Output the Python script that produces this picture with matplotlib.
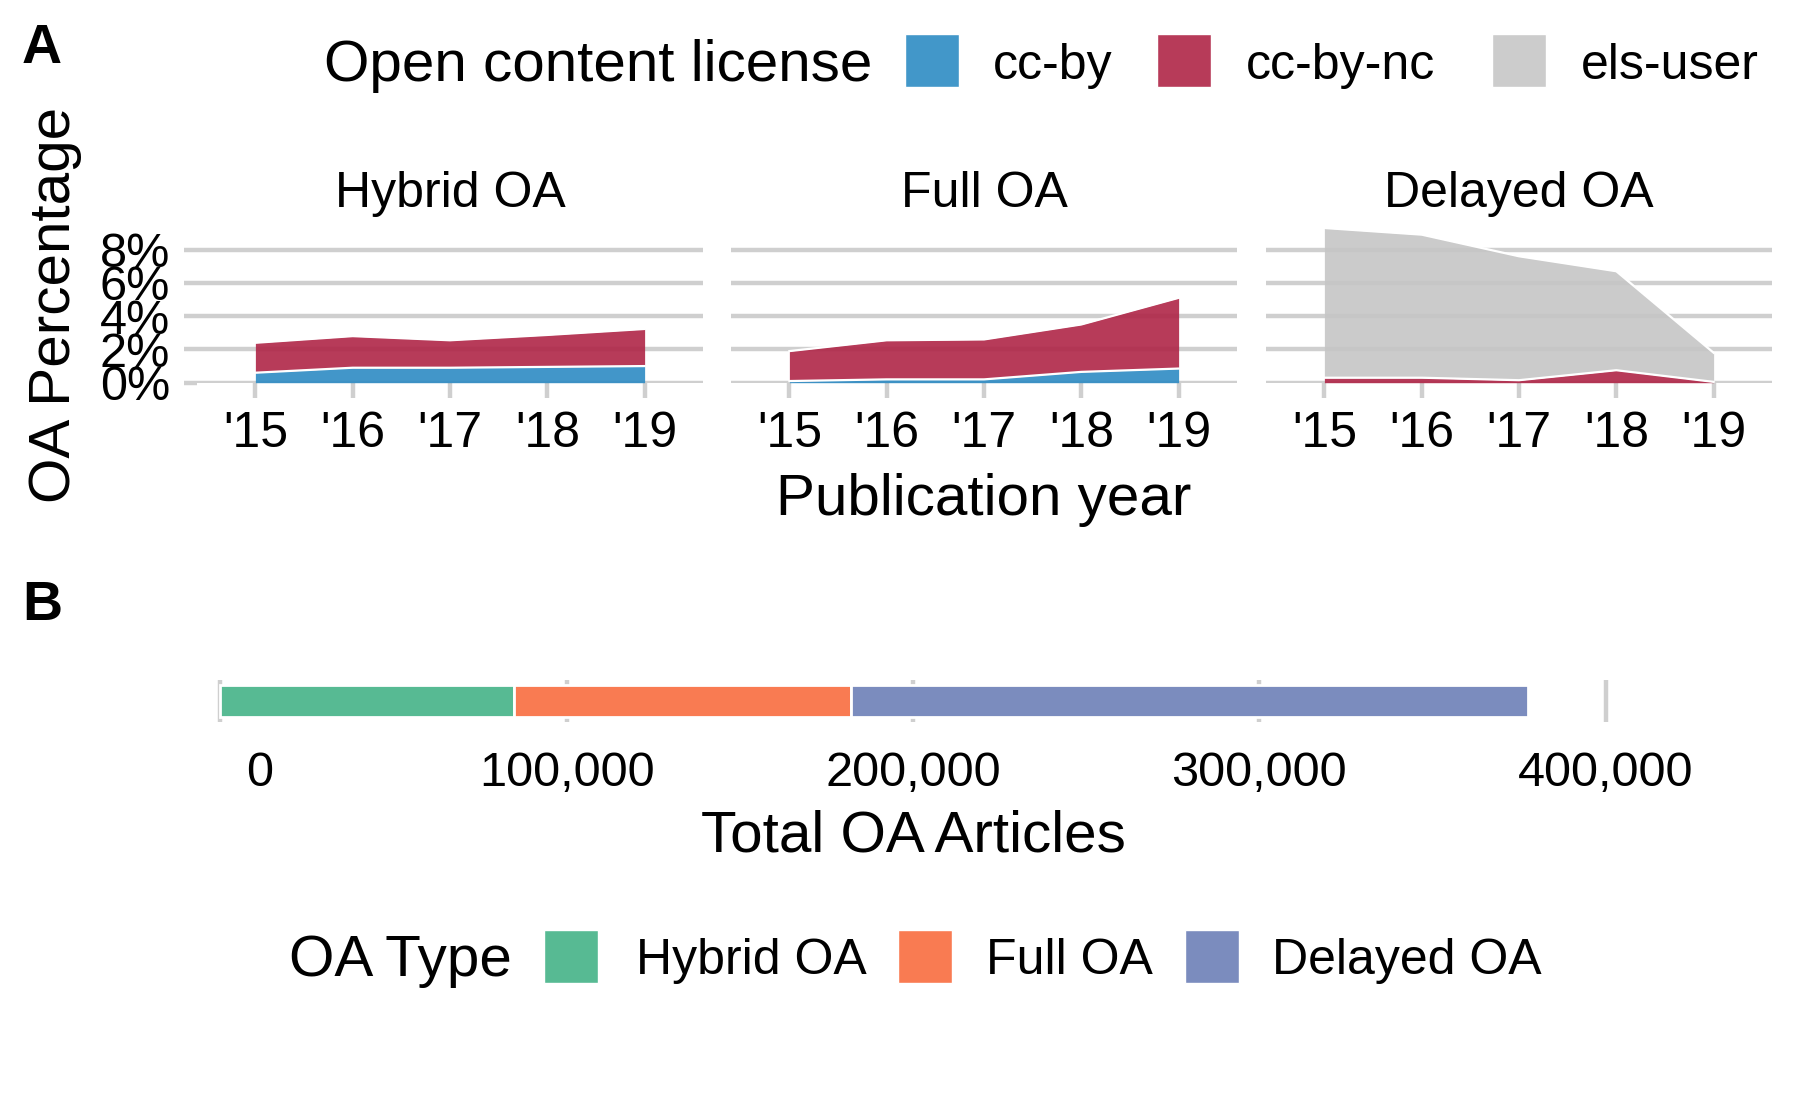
import numpy as np
import matplotlib
matplotlib.use('Agg')
import matplotlib.pyplot as plt
from matplotlib.patches import Rectangle

plt.rcParams['font.family'] = ['Liberation Sans', 'DejaVu Sans']

W, H = 1800, 1112

# data
years = [2015, 2016, 2017, 2018, 2019]
year_labels = ["'15", "'16", "'17", "'18", "'19"]
facets = ['Hybrid OA', 'Full OA', 'Delayed OA']
licenses = ['cc-by', 'cc-by-nc', 'els-user']

hybrid_ccby = [0.6, 0.9, 0.9, 0.95, 1.0]
hybrid_ccbync = [1.8, 1.9, 1.65, 1.92, 2.23]
hybrid_els = [0, 0, 0, 0, 0]
full_ccby = [0.1, 0.2, 0.2, 0.65, 0.85]
full_ccbync = [1.8, 2.35, 2.4, 2.85, 4.25]
full_els = [0, 0, 0, 0, 0]
delayed_ccby = [0, 0, 0, 0, 0]
delayed_ccbync = [0.3, 0.3, 0.15, 0.75, 0.05]
delayed_els = [9.0, 8.6, 7.45, 5.95, 1.75]

oa_types = ['Hybrid OA', 'Full OA', 'Delayed OA']
oa_totals = [84800, 97300, 195400]
count_ticks = [0, 100000, 200000, 300000, 400000]

lic_colors = ['#4297c9', '#b73b59', '#cccccc']   # legend / apparent colours
fill_colors = ['#2d8bc3', '#af2547', '#c6c6c6']  # drawn with alpha 0.9
type_colors = ['#57ba93', '#f97b52', '#7b8cbe']
grid_c = '#cfcfcf'

fig = plt.figure(figsize=(W / 100, H / 100), dpi=100)


def ax_px(x0, y0, x1, y1):
    return fig.add_axes([x0 / W, 1 - y1 / H, (x1 - x0) / W, (y1 - y0) / H])


def ftext(x, y, s, **kw):
    fig.text(x / W, 1 - y / H, s, **kw)


# ---- panel A ----
series = [
    (hybrid_ccby, hybrid_ccbync, hybrid_els),
    (full_ccby, full_ccbync, full_els),
    (delayed_ccby, delayed_ccbync, delayed_els),
]
panel_x = [(197, 703), (731, 1237), (1266, 1772)]

for i, (name, data, (x0, x1)) in enumerate(zip(facets, series, panel_x)):
    ax = ax_px(x0, 223, x1, 382.7)
    for s in ax.spines.values():
        s.set_visible(False)
    ax.set_xlim(2014.4, 2019.6)
    ax.set_ylim(0, 9.6)
    ax.set_yticks([0, 2, 4, 6, 8])
    ax.yaxis.grid(True, color=grid_c, lw=3.2)
    ax.set_axisbelow(True)
    base = np.zeros(len(years))
    for vals, fc in zip(data, fill_colors):
        top = base + np.array(vals)
        if np.any(np.array(vals) > 0):
            ax.fill_between(years, base, top, color=fc, alpha=0.9, lw=0)
            ax.plot(years, top, color='white', lw=1.6)
        base = top
    ax.set_xticks(years)
    ax.set_xticklabels(year_labels, fontsize=36)
    ax.tick_params(axis='x', length=10.5, width=3.2, color=grid_c, pad=10)
    if i == 0:
        ax.set_yticklabels(['0%', '2%', '4%', '6%', '8%'], fontsize=35)
        ax.tick_params(axis='y', length=9.4, width=3.2, color=grid_c, pad=10)
    else:
        ax.tick_params(axis='y', length=0, labelleft=False)
    ftext((x0 + x1) / 2, 194, name, fontsize=36, ha='center', va='center')

ftext(984, 500, 'Publication year', fontsize=42, ha='center', va='center')
ftext(55, 305, 'OA Percentage', fontsize=42, ha='center', va='center',
      rotation=90)
ftext(42, 49, 'A', fontsize=40, fontweight='bold', ha='center', va='center')

# top legend
ftext(324, 66, 'Open content license', fontsize=42, ha='left', va='center')
for lab, c, kx, lx in zip(licenses, lic_colors, [905, 1157, 1492],
                          [993, 1246, 1581]):
    fig.add_artist(Rectangle((kx / W, 1 - 87 / H), 54 / W, 53 / H,
                             transform=fig.transFigure, facecolor=c,
                             edgecolor='white', lw=1))
    ftext(lx, 66, lab, fontsize=36, ha='left', va='center')

# ---- panel B ----
axb = ax_px(151, 680, 1675, 722)
for s in axb.spines.values():
    s.set_visible(False)
axb.set_xlim(-20000, 420000)
axb.set_ylim(0.4, 1.6)
axb.set_xticks(count_ticks)
axb.xaxis.grid(True, color=grid_c, lw=3.2)
axb.set_axisbelow(True)
left = 0
for t, v, c in zip(oa_types, oa_totals, type_colors):
    axb.barh(1, v, left=left, height=0.9, color=c, edgecolor='white', lw=2)
    left += v
axb.set_yticks([])
# labels padded to equal width, as format() does
axb.set_xticklabels(['{:>7}'.format('{:,}'.format(v)) for v in count_ticks],
                    fontsize=35)
axb.tick_params(axis='x', length=0, pad=21)

ftext(913, 836, 'Total OA Articles', fontsize=42, ha='center', va='center')
ftext(42, 606, 'B', fontsize=40, fontweight='bold', ha='center', va='center')

# bottom legend
ftext(289, 961, 'OA Type', fontsize=42, ha='left', va='center')
for lab, c, kx, lx in zip(oa_types, type_colors, [544, 898, 1185],
                          [636, 986, 1272]):
    fig.add_artist(Rectangle((kx / W, 1 - 983 / H), 54 / W, 53 / H,
                             transform=fig.transFigure, facecolor=c,
                             edgecolor='white', lw=1))
    ftext(lx, 961, lab, fontsize=36, ha='left', va='center')

fig.savefig('out.png', dpi=100)
